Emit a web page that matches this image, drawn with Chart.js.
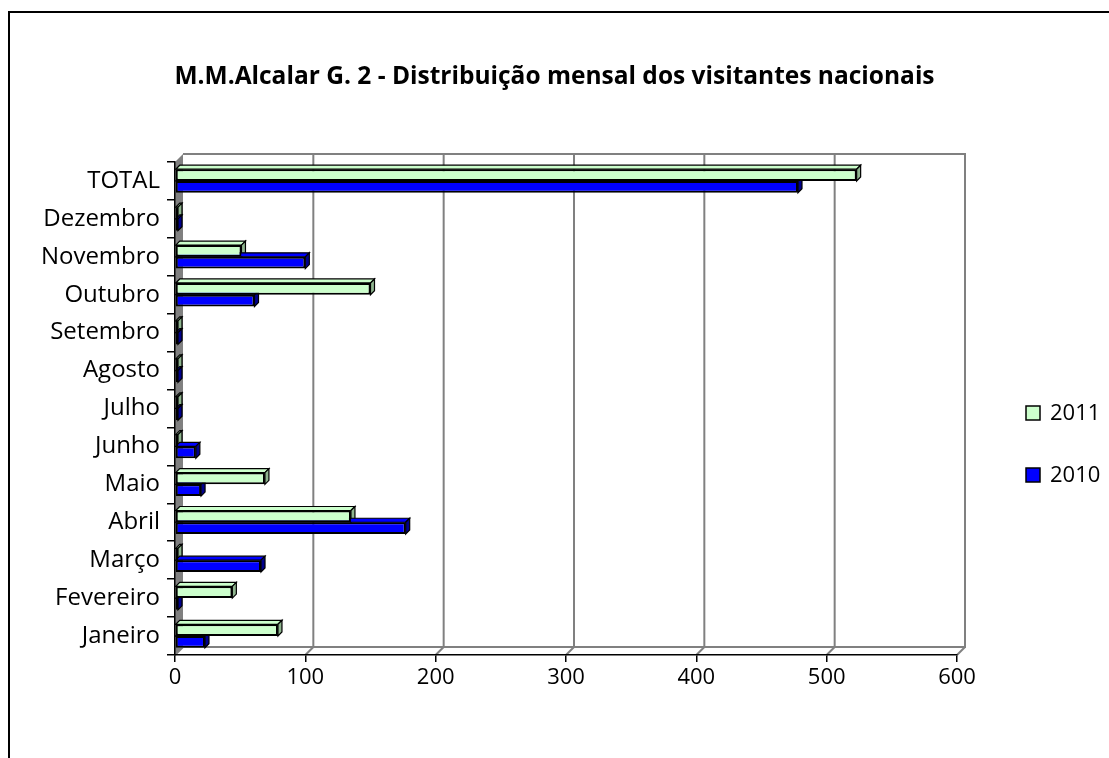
<!DOCTYPE html>
<html>
<head>
<meta charset="utf-8">
<title>M.M.Alcalar G. 2</title>
<script src="https://cdn.jsdelivr.net/npm/chart.js@4.4.1/dist/chart.umd.min.js"></script>
<style>
  html, body { margin: 0; padding: 0; background: #fff; overflow: hidden; }
  #frame { position: absolute; left: 8px; top: 11px; width: 1200px; height: 800px; border: 2px solid #000; }
  #wrap { position: absolute; left: 0; top: 0; width: 1109px; height: 758px; }
</style>
</head>
<body>
<div id="frame"></div>
<div id="wrap"><canvas id="chart"></canvas></div>
<script>
// data
const categories = ['Janeiro', 'Fevereiro', 'Março', 'Abril', 'Maio', 'Junho', 'Julho',
                    'Agosto', 'Setembro', 'Outubro', 'Novembro', 'Dezembro', 'TOTAL'];
const visitors2011 = [79, 44, 0, 135, 69, 0, 0, 0, 0, 150, 51, 0, 523];
const visitors2010 = [23, 0, 66, 177, 20, 16, 0, 0, 0, 61, 100, 0, 478];
const xTicks = [0, 100, 200, 300, 400, 500, 600];

const FONT = "'Open Sans', sans-serif";
const DEPTH = 8;      // wall depth
const BAR_DEPTH = 4;  // bar side depth
const sideColors = ['#8fb58f', '#00008c'];

// gray walls, back grid and floor lines (drawn before the axes)
const wallsPlugin = {
    id: 'walls',
    beforeDraw(chart) {
        const { ctx, chartArea: a, scales } = chart;
        const d = DEPTH;
        ctx.save();
        // left wall
        ctx.fillStyle = '#808080';
        ctx.beginPath();
        ctx.moveTo(a.left, a.top);
        ctx.lineTo(a.left + d, a.top - d);
        ctx.lineTo(a.left + d, a.bottom - d);
        ctx.lineTo(a.left, a.bottom);
        ctx.closePath();
        ctx.fill();
        // back wall grid
        ctx.strokeStyle = '#808080';
        ctx.lineWidth = 2;
        xTicks.forEach(v => {
            const px = scales.x.getPixelForValue(v);
            if (v > 0) {
                ctx.beginPath();
                ctx.moveTo(px + d, a.top - d);
                ctx.lineTo(px + d, a.bottom - d);
                ctx.stroke();
            }
            // slanted lines on the floor
            ctx.beginPath();
            ctx.moveTo(px, a.bottom);
            ctx.lineTo(px + d, a.bottom - d);
            ctx.stroke();
        });
        // back wall outline + floor back edge
        ctx.beginPath();
        ctx.moveTo(a.left + d, a.top - d);
        ctx.lineTo(a.right + d, a.top - d);
        ctx.lineTo(a.right + d, a.bottom - d);
        ctx.lineTo(a.left + d, a.bottom - d);
        ctx.stroke();
        ctx.restore();
    }
};

// fake 3d top and right faces of every bar
const barSidesPlugin = {
    id: 'barSides',
    beforeDatasetsDraw(chart) {
        const ctx = chart.ctx;
        const d = BAR_DEPTH;
        ctx.save();
        ctx.lineWidth = 1.2;
        ctx.strokeStyle = '#000';
        chart.data.datasets.forEach((ds, i) => {
            const meta = chart.getDatasetMeta(i);
            meta.data.forEach(bar => {
                const { x, y, base, height } = bar.getProps(['x', 'y', 'base', 'height'], true);
                const top = y - height / 2;
                const bottom = y + height / 2;
                ctx.fillStyle = ds.backgroundColor;
                ctx.beginPath();
                ctx.moveTo(base, top);
                ctx.lineTo(base + d, top - d);
                ctx.lineTo(x + d, top - d);
                ctx.lineTo(x, top);
                ctx.closePath();
                ctx.fill();
                ctx.stroke();
                ctx.fillStyle = sideColors[i];
                ctx.beginPath();
                ctx.moveTo(x, top);
                ctx.lineTo(x + d, top - d);
                ctx.lineTo(x + d, bottom - d);
                ctx.lineTo(x, bottom);
                ctx.closePath();
                ctx.fill();
                ctx.stroke();
            });
        });
        ctx.restore();
    }
};

// legend on the right, squares with the year
const legendPlugin = {
    id: 'sideLegend',
    afterDraw(chart) {
        const ctx = chart.ctx;
        ctx.save();
        ctx.font = '22px ' + FONT;
        ctx.textBaseline = 'middle';
        chart.data.datasets.forEach((ds, i) => {
            const cy = 413 + i * 62;
            ctx.fillStyle = ds.backgroundColor;
            ctx.fillRect(1026, cy - 7, 14, 14);
            ctx.strokeStyle = '#000';
            ctx.lineWidth = 1.5;
            ctx.strokeRect(1026, cy - 7, 14, 14);
            ctx.fillStyle = '#000';
            ctx.fillText(ds.label, 1050, cy + 1);
        });
        ctx.restore();
    }
};

new Chart(document.getElementById('chart'), {
    type: 'bar',
    data: {
        labels: categories,
        datasets: [{
            label: '2011',
            data: visitors2011,
            backgroundColor: '#ccffcc',
            borderColor: '#000',
            borderWidth: 2,
            borderSkipped: false,
            minBarLength: 3
        }, {
            label: '2010',
            data: visitors2010,
            backgroundColor: '#0000ff',
            borderColor: '#000',
            borderWidth: 2,
            borderSkipped: false,
            minBarLength: 3
        }]
    },
    options: {
        indexAxis: 'y',
        responsive: true,
        maintainAspectRatio: false,
        animation: false,
        categoryPercentage: 0.62,
        barPercentage: 1,
        layout: { padding: 0 },
        plugins: {
            legend: { display: false },
            tooltip: { enabled: false },
            title: {
                display: true,
                text: 'M.M.Alcalar G. 2 - Distribuição mensal dos visitantes nacionais',
                color: '#000',
                font: { family: FONT, size: 24.5, weight: 'bold' },
                padding: { top: 62, bottom: 70.6 }
            }
        },
        scales: {
            x: {
                min: 0,
                max: 600,
                afterBuildTicks: scale => { scale.ticks = xTicks.map(v => ({ value: v })); },
                afterFit: scale => { scale.height = 103; },
                grid: { drawOnChartArea: false, tickLength: 7, color: '#000', lineWidth: 1.5 },
                border: { color: '#000', width: 1.5 },
                ticks: { color: '#000', padding: 3, font: { family: FONT, size: 22 } }
            },
            y: {
                reverse: true,
                afterFit: scale => { scale.width = 175; },
                grid: { drawOnChartArea: false, tickLength: 8, color: '#000', lineWidth: 1.5, offset: true },
                border: { color: '#000', width: 1.5 },
                ticks: { color: '#000', padding: 7, font: { family: FONT, size: 24 } }
            },
            // empty column on the right that holds the legend
            legendSpace: {
                type: 'category',
                position: 'right',
                grid: { display: false },
                border: { display: false },
                ticks: { display: false },
                afterFit: scale => { scale.width = 152; }
            }
        }
    },
    plugins: [wallsPlugin, barSidesPlugin, legendPlugin]
});
</script>
</body>
</html>
